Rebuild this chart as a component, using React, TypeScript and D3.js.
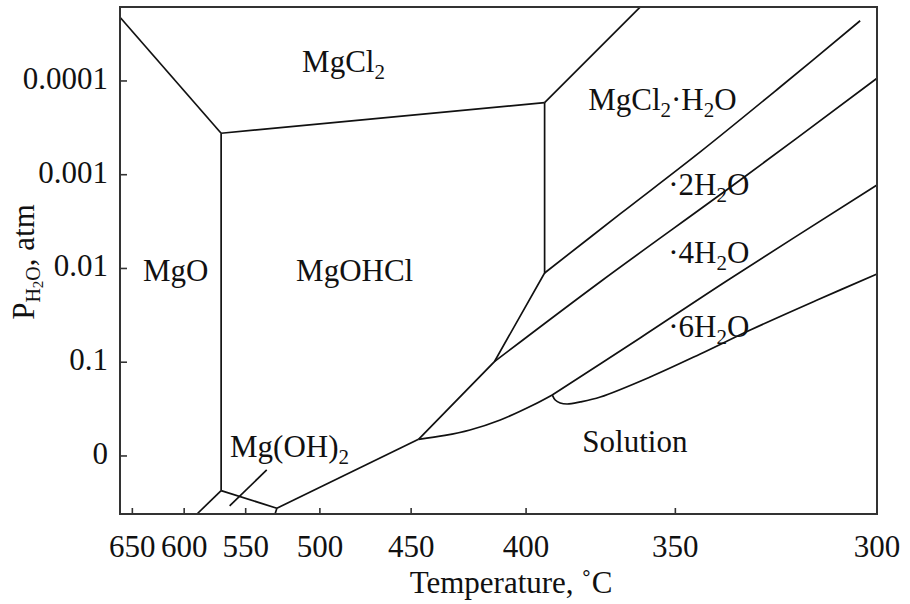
import React from 'react';
import * as d3 from 'd3';

type Pt = [number, number]; // [temperature °C, P(H2O) atm]

// axis ticks
const xTicks = [650, 600, 550, 500, 450, 400, 350, 300];
const yTicks = [1e-4, 1e-3, 1e-2, 1e-1, 1];
const yTickLabels = ['0.0001', '0.001', '0.01', '0.1', '0'];

// phase boundaries
const mgoMgcl2: Pt[] = [[663.2, 2.09e-5], [568.9, 3.61e-4]];
const mgohclMgcl2: Pt[] = [[568.9, 3.61e-4], [393.0, 1.7e-4]];
const mgcl2Hydrate1: Pt[] = [[393.0, 1.7e-4], [360.6, 1.63e-5]];
const mgoMgohcl: Pt[] = [[568.9, 3.61e-4], [568.9, 2.34]];
const mgoMgoh2: Pt[] = [[568.9, 2.34], [588.8, 4.16]];
const mgoh2Mgohcl: Pt[] = [[568.9, 2.34], [527.8, 3.61]];
const mgoh2Stem: Pt[] = [[527.8, 3.61], [529.0, 4.16]];
const mgohclSolution: Pt[] = [[527.8, 3.61], [446.4, 0.664]];
const mgohclHydrates: Pt[] = [[446.4, 0.664], [412.6, 0.0986], [393.0, 0.01117], [393.0, 1.7e-4]];
const hydrate1to2: Pt[] = [[393.0, 0.01117], [366.9, 2.62e-3], [342.9, 5.71e-4], [322.0, 1.16e-4], [303.6, 2.28e-5]];
const hydrate2to4: Pt[] = [[412.6, 0.0986], [373.5, 0.01393], [332.1, 1.14e-3], [300, 9.36e-5]];
const solutionCurve: Pt[] = [[446.4, 0.664], [434.0, 0.604], [422.9, 0.528], [410.2, 0.413], [397.3, 0.286], [390.2, 0.2233]];
const hydrate4to6: Pt[] = [[390.2, 0.2233], [360.6, 0.0551], [335.3, 0.01327], [300, 1.285e-3]];
const hydrate6Solution: Pt[] = [
  [390.2, 0.2233], [389.1, 0.253], [387.3, 0.272], [384.8, 0.279], [380.2, 0.265], [373.4, 0.235],
  [357.5, 0.1436], [342.9, 0.0817], [329.5, 0.0453], [313.2, 0.0217], [300, 0.01146],
];
const mgoh2Leader: Pt[] = [[534.8, 1.41], [562.2, 3.41]];

const straight = [mgoMgcl2, mgohclMgcl2, mgcl2Hydrate1, mgoMgohcl, mgoMgoh2, mgoh2Mgohcl, mgoh2Stem, mgohclSolution, mgohclHydrates, mgoh2Leader];
const curved = [hydrate1to2, hydrate2to4, solutionCurve, hydrate4to6, hydrate6Solution];

// region labels: [text, subscript?] pieces placed at (T, P)
const labels: { t: number; p: number; parts: [string, boolean][] }[] = [
  { t: 511.1, p: 8.0e-5, parts: [['MgCl', false], ['2', true]] },
  { t: 639.0, p: 0.01359, parts: [['MgO', false]] },
  { t: 515.0, p: 0.01359, parts: [['MgOHCl', false]] },
  { t: 377.5, p: 2.04e-4, parts: [['MgCl', false], ['2', true], ['·H', false], ['2', true], ['O', false]] },
  { t: 352.1, p: 1.645e-3, parts: [['·2H', false], ['2', true], ['O', false]] },
  { t: 352.1, p: 8.73e-3, parts: [['·4H', false], ['2', true], ['O', false]] },
  { t: 352.1, p: 0.0538, parts: [['·6H', false], ['2', true], ['O', false]] },
  { t: 379.5, p: 0.906, parts: [['Solution', false]] },
  { t: 561.9, p: 1.025, parts: [['Mg(OH)', false], ['2', true]] },
];

const W = 910;
const H = 604;
const margin = { top: 7, right: 33, bottom: 90, left: 120 };
const innerW = W - margin.left - margin.right;
const innerH = H - margin.top - margin.bottom;
const FONT = '"Liberation Serif", "Times New Roman", serif';
const FS = 31;
const SUB = 21;
const INK = '#111';

// temperature axis is linear in 1/(T - 15)
const T_OFFSET = 15;
const inv = (t: number) => 1 / (t - T_OFFSET);
const xLin = d3.scaleLinear().domain([inv(663.2), inv(300)]).range([0, innerW]);
const x = (t: number) => xLin(inv(t));
const y = d3.scaleLog().domain([1.626e-5, 4.159]).range([0, innerH]);

const lineStraight = d3.line<Pt>().x((d) => x(d[0])).y((d) => y(d[1]));
const lineCurved = d3
  .line<Pt>()
  .x((d) => x(d[0]))
  .y((d) => y(d[1]))
  .curve(d3.curveCatmullRom.alpha(0.5));

const Chem: React.FC<{ parts: [string, boolean][] }> = ({ parts }) => {
  let shifted = false;
  return (
    <>
      {parts.map(([s, sub], i) => {
        let dy = 0;
        if (sub && !shifted) { dy = 7; shifted = true; }
        else if (!sub && shifted) { dy = -7; shifted = false; }
        return (
          <tspan key={i} dy={dy} fontSize={sub ? SUB : FS}>{s}</tspan>
        );
      })}
    </>
  );
};

export default function App() {
  return (
    <svg width={W} height={H} style={{ position: 'absolute', left: 0, top: 0, background: '#fff' }}
      fontFamily={FONT} fill={INK}>
      <g transform={`translate(${margin.left},${margin.top})`}>
        {straight.map((d, i) => (
          <path key={`s${i}`} d={lineStraight(d) || ''} fill="none" stroke={INK} strokeWidth={1.7} />
        ))}
        {curved.map((d, i) => (
          <path key={`c${i}`} d={lineCurved(d) || ''} fill="none" stroke={INK} strokeWidth={1.7} />
        ))}

        {labels.map((l, i) => (
          <text key={i} x={x(l.t)} y={y(l.p)} fontSize={FS}>
            <Chem parts={l.parts} />
          </text>
        ))}

        {/* frame */}
        <rect x={0} y={0} width={innerW} height={innerH} fill="none" stroke="#333" strokeWidth={2} />

        {/* y axis */}
        {yTicks.map((v, i) => (
          <g key={v} transform={`translate(0,${y(v)})`}>
            <line x1={0} x2={7} stroke="#333" strokeWidth={1.6} />
            <text x={-12} y={8} textAnchor="end" fontSize={FS}>{yTickLabels[i]}</text>
          </g>
        ))}

        {/* x axis */}
        {xTicks.map((v) => (
          <g key={v} transform={`translate(${x(v)},${innerH})`}>
            <line y1={0} y2={-6} stroke="#333" strokeWidth={1.6} />
            <text y={43} textAnchor="middle" fontSize={FS}>{v}</text>
          </g>
        ))}
      </g>

      <text x={511} y={593} textAnchor="middle" fontSize={FS}>Temperature, ˚C</text>
      <text transform="translate(34,262) rotate(-90)" textAnchor="middle" fontSize={FS}>
        P<tspan fontSize={20} dy={6}>H</tspan>
        <tspan fontSize={15} dy={3}>2</tspan>
        <tspan fontSize={20} dy={-3}>O</tspan>
        <tspan fontSize={FS} dy={-6}>, atm</tspan>
      </text>
    </svg>
  );
}
